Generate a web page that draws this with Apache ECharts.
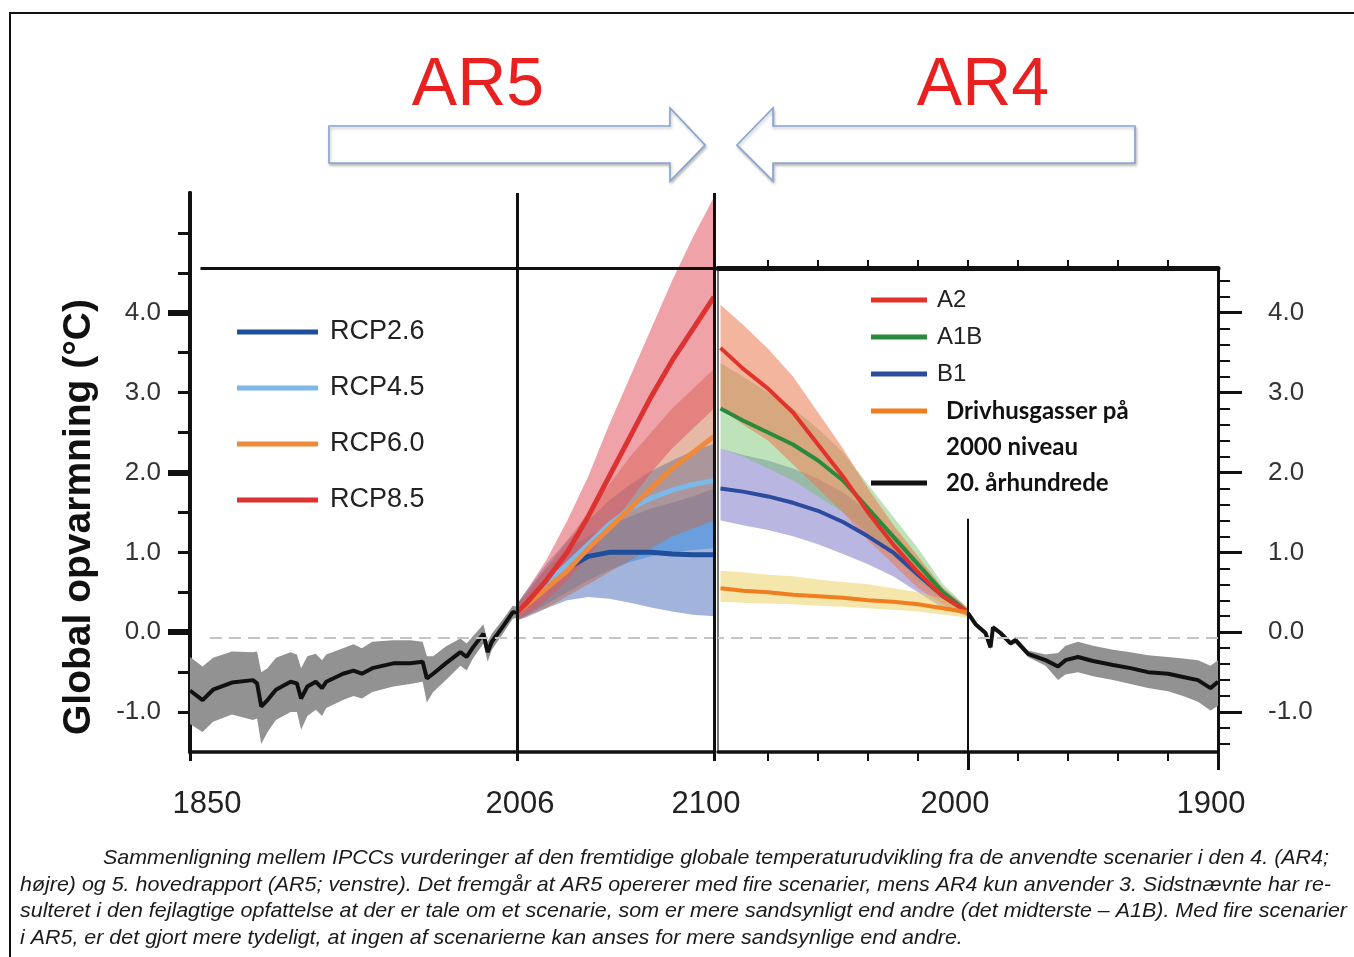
<!DOCTYPE html>
<html>
<head>
<meta charset="utf-8">
<title>AR5 / AR4 sammenligning</title>
<script src="https://cdn.jsdelivr.net/npm/echarts@6/dist/echarts.min.js"></script>
<style>
html, body { margin: 0; padding: 0; background: #fff; }
#chart { width: 1354px; height: 957px; }
</style>
</head>
<body>
<div id="chart"></div>
<script>
// --- historisk (venstre panel, AR5) ---
const histYears = [1850, 1856, 1861, 1870, 1880, 1882, 1884, 1887, 1891, 1898, 1901, 1903, 1906, 1910, 1913, 1915, 1923, 1928, 1932, 1937, 1947, 1955, 1961, 1963, 1966, 1972, 1979, 1982, 1985, 1990, 1992, 1994, 1999, 2004, 2006];
const histMean = [-0.73, -0.85, -0.72, -0.63, -0.60, -0.64, -0.93, -0.85, -0.72, -0.62, -0.64, -0.83, -0.68, -0.62, -0.70, -0.62, -0.52, -0.48, -0.52, -0.45, -0.39, -0.39, -0.37, -0.58, -0.52, -0.39, -0.25, -0.31, -0.19, -0.02, -0.25, -0.12, 0.06, 0.25, 0.25];
const histLow = [-1.15, -1.25, -1.12, -1.03, -1.10, -1.08, -1.40, -1.25, -1.10, -1.00, -1.00, -1.22, -1.05, -0.97, -1.05, -0.95, -0.85, -0.80, -0.83, -0.75, -0.68, -0.65, -0.62, -0.88, -0.75, -0.60, -0.42, -0.48, -0.33, -0.14, -0.37, -0.22, -0.03, 0.17, 0.18];
const histHigh = [-0.31, -0.43, -0.32, -0.24, -0.25, -0.24, -0.50, -0.45, -0.32, -0.25, -0.28, -0.45, -0.30, -0.27, -0.35, -0.28, -0.20, -0.15, -0.20, -0.12, -0.10, -0.10, -0.12, -0.30, -0.30, -0.18, -0.08, -0.14, -0.05, 0.10, -0.12, -0.02, 0.15, 0.33, 0.32];

// --- RCP scenarier ---
const rcpYears = [2006, 2010, 2020, 2030, 2040, 2050, 2060, 2070, 2080, 2090, 2100];
const rcp26 = [0.25, 0.35, 0.60, 0.80, 0.95, 1.00, 1.00, 1.00, 0.98, 0.97, 0.97];
const rcp26Low = [0.15, 0.18, 0.30, 0.40, 0.44, 0.42, 0.37, 0.31, 0.26, 0.22, 0.20];
const rcp26High = [0.35, 0.48, 0.80, 1.05, 1.20, 1.35, 1.45, 1.55, 1.62, 1.70, 1.80];
const rcp45 = [0.25, 0.35, 0.60, 0.85, 1.10, 1.35, 1.55, 1.68, 1.78, 1.85, 1.90];
const rcp45Low = [0.15, 0.20, 0.35, 0.50, 0.65, 0.78, 0.88, 0.95, 1.00, 1.03, 1.05];
const rcp45High = [0.35, 0.50, 0.85, 1.15, 1.40, 1.65, 1.85, 2.02, 2.15, 2.27, 2.36];
const rcp60 = [0.25, 0.33, 0.55, 0.77, 1.05, 1.30, 1.55, 1.80, 2.05, 2.25, 2.45];
const rcp60Low = [0.15, 0.20, 0.30, 0.45, 0.60, 0.75, 0.90, 1.05, 1.20, 1.30, 1.40];
const rcp60High = [0.35, 0.45, 0.80, 1.15, 1.50, 1.85, 2.20, 2.50, 2.80, 3.05, 3.30];
const rcp85 = [0.25, 0.35, 0.65, 1.00, 1.45, 1.95, 2.45, 2.95, 3.40, 3.80, 4.20];
const rcp85Low = [0.15, 0.20, 0.40, 0.65, 0.95, 1.30, 1.65, 2.00, 2.30, 2.55, 2.80];
const rcp85High = [0.35, 0.50, 0.90, 1.40, 1.95, 2.60, 3.20, 3.80, 4.40, 4.95, 5.45];

// --- SRES scenarier (hoejre panel, AR4) ---
const sresYears = [2000, 2010, 2020, 2030, 2040, 2050, 2060, 2070, 2080, 2090, 2099];
const a2 = [0.25, 0.45, 0.75, 1.10, 1.50, 1.95, 2.35, 2.75, 3.05, 3.30, 3.56];
const a2Low = [0.20, 0.35, 0.55, 0.85, 1.15, 1.50, 1.80, 2.10, 2.40, 2.60, 2.80];
const a2High = [0.30, 0.55, 0.95, 1.35, 1.80, 2.30, 2.75, 3.20, 3.55, 3.85, 4.10];
const a1b = [0.25, 0.50, 0.85, 1.20, 1.55, 1.90, 2.15, 2.35, 2.50, 2.65, 2.80];
const a1bLow = [0.20, 0.40, 0.65, 0.95, 1.25, 1.50, 1.70, 1.90, 2.05, 2.20, 2.30];
const a1bHigh = [0.30, 0.60, 1.05, 1.45, 1.85, 2.25, 2.55, 2.80, 3.00, 3.20, 3.37];
const b1 = [0.25, 0.45, 0.72, 1.00, 1.20, 1.38, 1.52, 1.62, 1.70, 1.76, 1.80];
const b1Low = [0.20, 0.30, 0.50, 0.70, 0.85, 0.98, 1.10, 1.20, 1.28, 1.34, 1.40];
const b1High = [0.30, 0.55, 0.90, 1.25, 1.52, 1.75, 1.92, 2.05, 2.15, 2.22, 2.30];
const constComp = [0.25, 0.30, 0.35, 0.38, 0.40, 0.43, 0.45, 0.47, 0.50, 0.52, 0.55];
const constLow = [0.18, 0.22, 0.26, 0.28, 0.30, 0.32, 0.33, 0.35, 0.36, 0.37, 0.38];
const constHigh = [0.32, 0.42, 0.50, 0.55, 0.60, 0.63, 0.66, 0.70, 0.72, 0.75, 0.77];

const c20Years = [2000, 1997, 1993, 1991, 1990, 1987, 1983, 1981, 1976, 1969, 1964, 1961, 1956, 1950, 1942, 1935, 1928, 1920, 1914, 1908, 1903, 1900];
const c20Mean = [0.24, 0.10, -0.01, -0.19, 0.06, -0.01, -0.14, -0.10, -0.27, -0.35, -0.43, -0.35, -0.31, -0.36, -0.41, -0.45, -0.50, -0.52, -0.56, -0.60, -0.70, -0.62];
const c20Low = [0.21, 0.07, -0.04, -0.22, 0.03, -0.04, -0.17, -0.14, -0.31, -0.42, -0.60, -0.53, -0.50, -0.55, -0.60, -0.65, -0.70, -0.74, -0.80, -0.87, -0.98, -0.92];
const c20High = [0.27, 0.13, 0.02, -0.16, 0.09, 0.02, -0.11, -0.06, -0.23, -0.28, -0.26, -0.17, -0.12, -0.17, -0.22, -0.25, -0.29, -0.31, -0.33, -0.35, -0.42, -0.35];

// --- akser ---
const leftLabels = [-1, 0, 1, 2, 3, 4];
const leftMajorTicks = [0, 2, 4];
const leftMinorTicks = [-1, -0.5, 0.5, 1, 1.5, 2.5, 3, 3.5, 4.5, 5];
const rightLabels = [-1, 0, 1, 2, 3, 4];
const rightMinorTicks = [-1.4, -1.2, -0.8, -0.6, -0.4, -0.2, 0.2, 0.4, 0.6, 0.8, 1.2, 1.4, 1.6, 1.8, 2.2, 2.4, 2.6, 2.8, 3.2, 3.4, 3.6, 3.8, 4.2, 4.4];
const leftYearLabels = [1850, 2006, 2100];
const rightYearLabels = [2000, 1900];
const rightYearMinor = [1920, 1940, 1960, 1980, 2020, 2040, 2060, 2080];

const captionLines = [
    'Sammenligning mellem IPCCs vurderinger af den fremtidige globale temperaturudvikling fra de anvendte scenarier i den 4. (AR4;',
    'højre) og 5. hovedrapport (AR5; venstre). Det fremgår at AR5 opererer med fire scenarier, mens AR4 kun anvender 3. Sidstnævnte har re-',
    'sulteret i den fejlagtige opfattelse at der er tale om et scenarie, som er mere sandsynligt end andre (det midterste – A1B). Med fire scenarier',
    'i AR5, er det gjort mere tydeligt, at ingen af scenarierne kan anses for mere sandsynlige end andre.'
];

const measureCtx = document.createElement('canvas').getContext('2d');

function hasFont(name) {
    measureCtx.font = '40px monospace';
    const a = measureCtx.measureText('abcdefghijklmnopqrstuvwxyz0123456789').width;
    measureCtx.font = '40px "' + name + '", monospace';
    const b = measureCtx.measureText('abcdefghijklmnopqrstuvwxyz0123456789').width;
    return a !== b;
}

function textWidth(text, font) {
    measureCtx.font = font;
    return measureCtx.measureText(text).width;
}

const hasNarrow = hasFont('Liberation Sans Narrow');
const condFamily = hasNarrow ? 'Liberation Sans Narrow' : 'Liberation Sans';

function pairs(xs, ys) {
    return xs.map(function(x, i) { return [x, ys[i]]; });
}

// usikkerhedsbaand: polygon mellem lav og hoej kurve, tegnet via akserne
function band(id, xs, lo, hi, color, xi, yi) {
    return {
        name: id, type: 'custom', xAxisIndex: xi, yAxisIndex: yi, silent: true, z: 2,
        data: xs.map(function(x, i) { return [x, lo[i], hi[i]]; }),
        encode: { x: 0, y: [1, 2] },
        renderItem: function(params, api) {
            if (params.dataIndex !== 0) return;
            var top = [], bottom = [];
            for (var i = 0; i < xs.length; i++) {
                top.push(api.coord([xs[i], hi[i]]));
                bottom.unshift(api.coord([xs[i], lo[i]]));
            }
            return { type: 'polygon', shape: { points: top.concat(bottom) }, style: { fill: color } };
        }
    };
}

function line(name, xs, ys, color, width, xi, yi) {
    return {
        name: name, type: 'line', xAxisIndex: xi, yAxisIndex: yi, color: color,
        data: pairs(xs, ys), symbol: 'none', lineStyle: { color: color, width: width },
        silent: true, z: 4
    };
}

const black = '#111';
const axisFont = hasNarrow ? 36 : 31;

var series = [
    band('hist', histYears, histLow, histHigh, '#929292', 0, 0),
    band('rcp26', rcpYears, rcp26Low, rcp26High, 'rgba(70,105,185,0.5)', 0, 0),
    band('rcp45', rcpYears, rcp45Low, rcp45High, 'rgba(60,140,220,0.55)', 0, 0),
    band('rcp60', rcpYears, rcp60Low, rcp60High, 'rgba(200,100,60,0.45)', 0, 0),
    band('rcp85', rcpYears, rcp85Low, rcp85High, 'rgba(225,85,95,0.55)', 0, 0),
    band('c20', c20Years, c20Low, c20High, '#929292', 1, 2),
    band('b1', sresYears, b1Low, b1High, 'rgba(100,95,190,0.45)', 1, 2),
    band('a1b', sresYears, a1bLow, a1bHigh, 'rgba(110,190,100,0.45)', 1, 2),
    band('a2', sresYears, a2Low, a2High, 'rgba(235,120,80,0.55)', 1, 2),
    band('const', sresYears, constLow, constHigh, 'rgba(235,205,90,0.5)', 1, 2)
];

var histLine = line('Historisk', histYears, histMean, black, 4, 0, 0);
histLine.markLine = {
    silent: true, symbol: 'none', label: { show: false },
    data: [
        [{ coord: [1859.5, -0.07], lineStyle: { color: '#c4c4c4', width: 2, type: [12, 7] } }, { coord: [2100, -0.07] }],
        { xAxis: 2006, lineStyle: { color: black, width: 3, type: 'solid' } },
        { xAxis: 2100, lineStyle: { color: black, width: 3, type: 'solid' } },
        [{ coord: [1855, 4.56], lineStyle: { color: black, width: 3, type: 'solid' } }, { coord: [2100, 4.56] }]
    ]
};
series.push(histLine);
series.push(line('RCP2.6', rcpYears, rcp26, '#1f4e9c', 5, 0, 0));
series.push(line('RCP4.5', rcpYears, rcp45, '#7db9e8', 5, 0, 0));
series.push(line('RCP6.0', rcpYears, rcp60, '#ee8a3a', 5, 0, 0));
series.push(line('RCP8.5', rcpYears, rcp85, '#dc3232', 5, 0, 0));

var c20Line = line('20. århundrede', c20Years, c20Mean, black, 4, 1, 2);
c20Line.markLine = {
    silent: true, symbol: 'none', label: { show: false },
    data: [
        { yAxis: -0.07, lineStyle: { color: '#c4c4c4', width: 2, type: [12, 7] } },
        [{ coord: [2000, 1.42], lineStyle: { color: black, width: 2, type: 'solid' } }, { coord: [2000, -1.5] }]
    ]
};
series.push(c20Line);
series.push(line('B1', sresYears, b1, '#2c4a9e', 4, 1, 2));
series.push(line('A1B', sresYears, a1b, '#2a8a3c', 4, 1, 2));
series.push(line('A2', sresYears, a2, '#e2332a', 4, 1, 2));
series.push(line('Drivhusgasser på 2000 niveau', sresYears, constComp, '#f07d1e', 4, 1, 2));

function yearRich() {
    var base = { fontFamily: condFamily, fontSize: axisFont, color: '#222' };
    return {
        y1850: Object.assign({ padding: [0, 0, 0, 34] }, base),
        y2006: Object.assign({ padding: [0, 0, 0, 6] }, base),
        y2100: Object.assign({ padding: [0, 16, 0, 0] }, base),
        y2000: Object.assign({ padding: [0, 26, 0, 0] }, base),
        y1900: Object.assign({ padding: [0, 14, 0, 0] }, base)
    };
}

function yearLabel(v) {
    return '{y' + v + '|' + v + '}';
}

const off = { show: false };

// caption layout
const capFont = 'italic 21px "' + condFamily + '"';
const capSpecs = [
    { x: 103, y: 858, w: 1226 },
    { x: 20, y: 885, w: 1311 },
    { x: 20, y: 911, w: 1327 },
    { x: 20, y: 938, w: 0 }
];
var capScales = capSpecs.map(function(c, i) {
    return c.w ? c.w / textWidth(captionLines[i], capFont) : 0;
});
capScales[3] = (capScales[0] + capScales[1] + capScales[2]) / 3;
const captionGraphics = captionLines.map(function(t, i) {
    return {
        type: 'text', x: capSpecs[i].x, y: capSpecs[i].y, scaleX: capScales[i], silent: true,
        style: { text: t, font: capFont, fill: '#1a1a1a', align: 'left', verticalAlign: 'middle' }
    };
});

const arrowStyle = {
    fill: '#fff', stroke: '#86a4d4', lineWidth: 1.6,
    shadowBlur: 3, shadowOffsetX: 1, shadowOffsetY: 2, shadowColor: 'rgba(0,0,0,0.25)'
};

const option = {
    animation: false,
    backgroundColor: '#fff',
    tooltip: { show: false },
    grid: [
        { left: 190, top: 193, width: 524, height: 559 },
        { left: 718, top: 268, width: 500, height: 484 }
    ],
    xAxis: [{
        type: 'value', gridIndex: 0, min: 1850, max: 2100, position: 'bottom',
        axisLine: { onZero: false, lineStyle: { color: black, width: 3.5 } },
        axisTick: { customValues: leftYearLabels, length: 9, lineStyle: { color: black, width: 3 } },
        axisLabel: { customValues: leftYearLabels, margin: 37, formatter: yearLabel, rich: yearRich() },
        splitLine: off
    }, {
        type: 'value', gridIndex: 1, min: 1900, max: 2100, inverse: true, position: 'bottom',
        axisLine: { onZero: false, lineStyle: { color: black, width: 3.5 } },
        axisTick: { customValues: rightYearLabels, length: 18, lineStyle: { color: black, width: 3 } },
        axisLabel: { customValues: rightYearLabels, margin: 37, formatter: yearLabel, rich: yearRich() },
        splitLine: off
    }, {
        type: 'value', gridIndex: 1, min: 1900, max: 2100, inverse: true, position: 'bottom',
        axisLine: { show: false, onZero: false },
        axisTick: { customValues: rightYearMinor, length: 9, lineStyle: { color: black, width: 2 } },
        axisLabel: off, splitLine: off
    }, {
        type: 'value', gridIndex: 1, min: 1900, max: 2100, inverse: true, position: 'top',
        axisLine: { onZero: false, lineStyle: { color: black, width: 5 } },
        axisTick: { customValues: rightYearMinor.concat([2000]), length: 8, lineStyle: { color: black, width: 2 } },
        axisLabel: off, splitLine: off
    }],
    yAxis: [{
        type: 'value', gridIndex: 0, min: -1.5, max: 5.5, position: 'left',
        axisLine: { onZero: false, lineStyle: { color: black, width: 4 } },
        axisTick: { customValues: leftMajorTicks, length: 22, lineStyle: { color: black, width: 6 } },
        axisLabel: {
            customValues: leftLabels, margin: 29, fontSize: 26, color: '#333', fontFamily: 'Liberation Sans',
            formatter: function(v) { return v.toFixed(1); }
        },
        splitLine: off
    }, {
        type: 'value', gridIndex: 0, min: -1.5, max: 5.5, position: 'left',
        axisLine: { onZero: false, lineStyle: { color: black, width: 4 } },
        axisTick: { customValues: leftMinorTicks, length: 12, lineStyle: { color: black, width: 3 } },
        axisLabel: off, splitLine: off
    }, {
        type: 'value', gridIndex: 1, min: -1.5, max: 4.56, position: 'right',
        axisLine: { onZero: false, lineStyle: { color: black, width: 3 } },
        axisTick: { customValues: rightLabels, length: 24, lineStyle: { color: black, width: 3 } },
        axisLabel: {
            customValues: rightLabels, margin: 50, fontSize: 26, color: '#333', fontFamily: 'Liberation Sans',
            formatter: function(v) { return v.toFixed(1); }
        },
        splitLine: off
    }, {
        type: 'value', gridIndex: 1, min: -1.5, max: 4.56, position: 'right',
        axisLine: { show: false, onZero: false },
        axisTick: { customValues: rightMinorTicks, length: 12, lineStyle: { color: black, width: 2 } },
        axisLabel: off, splitLine: off
    }, {
        type: 'value', gridIndex: 1, min: -1.5, max: 4.56, position: 'left',
        axisLine: { onZero: false, lineStyle: { color: '#777', width: 2 } },
        axisTick: off, axisLabel: off, splitLine: off
    }],
    legend: [{
        data: ['RCP2.6', 'RCP4.5', 'RCP6.0', 'RCP8.5'],
        orient: 'vertical', left: 237, top: 317, padding: 0, icon: 'rect',
        itemWidth: 81, itemHeight: 5, itemGap: 26, selectedMode: false,
        textStyle: {
            fontFamily: condFamily, fontSize: hasNarrow ? 34 : 27, color: '#222',
            lineHeight: 30, padding: [0, 0, 0, 7]
        }
    }, {
        data: [
            { name: 'A2' }, { name: 'A1B' }, { name: 'B1' },
            { name: 'Drivhusgasser på 2000 niveau', textStyle: { fontFamily: 'Lato', fontWeight: 'bold', fontSize: 24, color: '#111', padding: [0, 0, 0, 14] } }
        ],
        formatter: function(n) { return n === 'Drivhusgasser på 2000 niveau' ? 'Drivhusgasser på' : n; },
        orient: 'vertical', left: 871, top: 286, padding: 0, icon: 'rect',
        itemWidth: 56, itemHeight: 5, itemGap: 9, selectedMode: false,
        textStyle: { fontFamily: 'Liberation Sans', fontSize: 24, color: '#222', lineHeight: 28, padding: [0, 0, 0, 5] }
    }, {
        data: ['20. århundrede'],
        orient: 'vertical', left: 871, top: 469, padding: 0, icon: 'rect',
        itemWidth: 56, itemHeight: 5, selectedMode: false,
        textStyle: { fontFamily: 'Lato', fontWeight: 'bold', fontSize: 24, color: '#111', lineHeight: 28, padding: [0, 0, 0, 14] }
    }],
    graphic: [{
        type: 'rect', silent: true, z: -1,
        shape: { x: 10, y: 13, width: 1360, height: 960 },
        style: { fill: 'none', stroke: '#111', lineWidth: 2 }
    }, {
        type: 'text', x: 478, y: 86, silent: true,
        style: { text: 'AR5', font: '68px "Liberation Sans"', fill: '#e8201f', align: 'center', verticalAlign: 'middle' }
    }, {
        type: 'text', x: 983, y: 86, silent: true,
        style: { text: 'AR4', font: '68px "Liberation Sans"', fill: '#e8201f', align: 'center', verticalAlign: 'middle' }
    }, {
        type: 'polygon', silent: true,
        shape: { points: [[329, 126], [670, 126], [670, 108], [705, 145], [670, 181], [670, 163], [329, 163]] },
        style: arrowStyle
    }, {
        type: 'polygon', silent: true,
        shape: { points: [[1135, 126], [773, 126], [773, 108], [737, 145], [773, 181], [773, 163], [1135, 163]] },
        style: arrowStyle
    }, {
        type: 'text', x: 79, y: 517, rotation: Math.PI / 2, silent: true,
        style: { text: 'Global opvarmning (°C)', font: 'bold 39px "Liberation Sans"', fill: '#111', align: 'center', verticalAlign: 'middle' }
    }, {
        type: 'text', x: 946, y: 447, silent: true,
        style: { text: '2000 niveau', font: 'bold 24px "Lato"', fill: '#111', align: 'left', verticalAlign: 'middle' }
    }].concat(captionGraphics),
    series: series
};

const chart = echarts.init(document.getElementById('chart'), null, { renderer: 'canvas' });
chart.setOption(option);
</script>
</body>
</html>
